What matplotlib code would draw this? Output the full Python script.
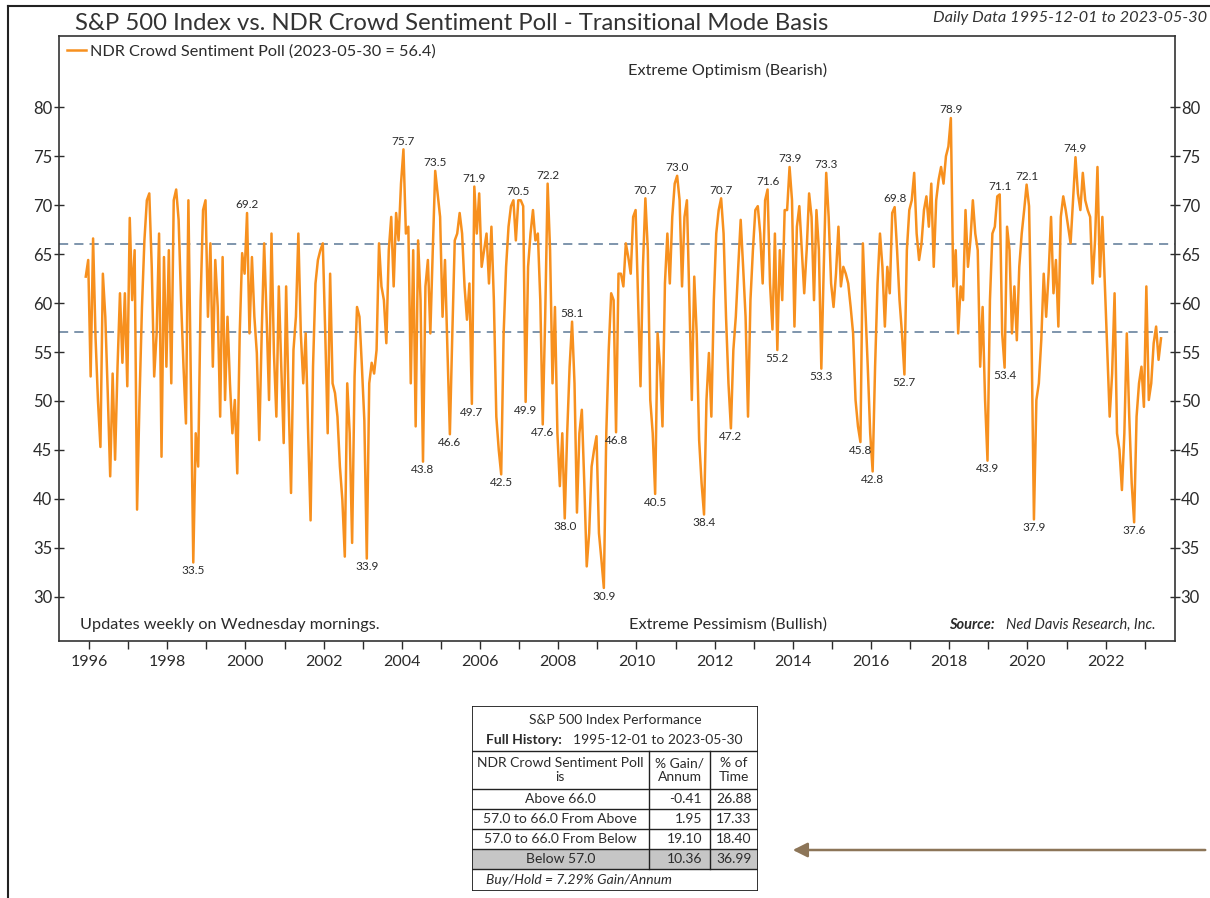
import numpy as np
import matplotlib
matplotlib.use('Agg')
import matplotlib.pyplot as plt
from matplotlib.lines import Line2D
from matplotlib.patches import Rectangle, FancyArrowPatch

plt.rcParams['font.family'] = ['Lato', 'DejaVu Sans']

# ---------------- data ----------------
start_year = 1995.917          # 1995-12-01
step_years = 1 / 16            # sampling step of the values below
sentiment = [
    # 1995 (Dec)
    62.7, 64.4,
    # 1996
    52.5, 66.6, 56.5, 50.0, 45.3, 63.0, 58.6, 50.8, 42.3, 52.8, 44.0, 53.5, 61.0, 53.9, 61.0, 51.5,
    # 1997
    68.7, 60.3, 65.4, 38.9, 50.1, 59.6, 66.4, 70.5, 71.2, 63.7, 52.5, 56.9, 67.1, 44.3, 64.7, 53.5,
    # 1998
    65.4, 51.8, 70.5, 71.6, 68.5, 60.3, 53.5, 47.7, 70.5, 51.8, 33.5, 46.7, 43.3, 60.3, 69.5, 70.5,
    # 1999
    58.6, 66.1, 53.5, 64.4, 59.6, 48.4, 64.7, 50.1, 58.6, 51.8, 46.7, 50.1, 42.6, 56.9, 65.1, 63.0,
    # 2000
    69.2, 56.9, 64.7, 58.6, 54.9, 46.0, 56.9, 66.1, 58.6, 50.1, 67.1, 54.9, 48.4, 61.7, 53.5, 45.7,
    # 2001
    61.7, 50.1, 40.6, 55.2, 58.6, 67.1, 56.9, 51.8, 56.9, 46.7, 37.8, 53.5, 62.0, 64.4, 65.4, 66.1,
    # 2002
    56.9, 46.7, 63.0, 51.8, 50.8, 48.4, 43.3, 39.9, 34.1, 51.8, 46.7, 35.5, 52.5, 59.6, 58.6, 53.5,
    # 2003
    48.0, 33.9, 51.8, 53.9, 52.8, 55.2, 66.1, 61.7, 60.3, 55.9, 65.4, 68.8, 61.7, 69.2, 66.4, 72.2,
    # 2004
    75.7, 67.1, 67.8, 51.8, 65.4, 47.4, 66.4, 60.3, 43.8, 61.7, 64.4, 56.9, 65.4, 73.5, 71.2, 68.8,
    # 2005
    58.6, 64.4, 55.2, 46.6, 56.9, 66.4, 67.1, 69.2, 67.1, 61.7, 58.3, 62.0, 49.7, 71.9, 67.1, 71.2,
    # 2006
    63.7, 65.4, 67.1, 62.0, 67.8, 60.3, 48.4, 45.0, 42.5, 56.9, 63.7, 67.8, 69.9, 70.5, 66.4, 70.5,
    # 2007
    70.5, 69.9, 49.9, 63.7, 67.1, 69.5, 66.4, 67.1, 60.3, 47.6, 58.6, 72.2, 65.4, 51.8, 59.6, 46.7,
    # 2008
    41.3, 46.7, 38.0, 46.7, 53.5, 58.1, 51.8, 38.6, 46.7, 49.1, 41.6, 33.1, 36.5, 43.3, 45.0, 46.4,
    # 2009
    36.5, 33.8, 30.9, 46.7, 55.2, 61.0, 60.3, 46.8, 63.0, 63.0, 61.7, 66.1, 64.7, 63.0, 68.8, 69.5,
    # 2010
    60.3, 51.5, 63.7, 70.7, 65.4, 50.1, 46.7, 40.5, 56.9, 53.5, 47.4, 62.0, 67.1, 62.0, 68.8, 72.2,
    # 2011
    73.0, 70.5, 61.7, 68.8, 70.5, 60.3, 50.1, 62.7, 56.9, 46.0, 41.6, 38.4, 50.1, 54.9, 48.4, 60.3,
    # 2012
    67.1, 69.5, 70.7, 67.1, 58.6, 51.8, 47.2, 55.2, 58.6, 63.7, 68.5, 63.7, 58.6, 48.4, 60.3, 65.4,
    # 2013
    69.5, 69.9, 67.1, 62.0, 70.5, 71.6, 62.0, 57.3, 67.1, 55.2, 65.4, 60.3, 69.5, 69.5, 73.9, 70.5,
    # 2014
    57.6, 67.8, 69.9, 65.4, 61.0, 65.4, 71.2, 68.8, 60.3, 69.5, 65.4, 53.3, 63.7, 73.3, 68.8, 62.0,
    # 2015
    59.6, 63.0, 67.8, 61.7, 63.7, 63.0, 62.0, 59.6, 56.9, 50.1, 47.4, 45.8, 66.1, 59.6, 53.5, 46.7,
    # 2016
    42.8, 53.5, 62.0, 67.1, 63.7, 57.6, 63.7, 61.0, 69.2, 69.8, 65.4, 60.3, 56.9, 52.7, 65.4, 69.5,
    # 2017
    70.5, 73.3, 67.1, 64.4, 66.1, 69.5, 70.9, 67.8, 72.2, 63.7, 70.5, 72.6, 73.9, 72.2, 75.0, 76.0,
    # 2018
    78.9, 61.7, 65.4, 56.9, 61.7, 60.3, 69.5, 63.7, 66.4, 70.5, 67.1, 65.4, 53.5, 59.6, 50.1, 43.9,
    # 2019
    60.3, 67.1, 67.8, 70.9, 71.1, 56.9, 53.4, 67.8, 65.4, 56.9, 61.7, 56.2, 63.7, 67.1, 69.5, 72.1,
    # 2020
    69.9, 56.9, 37.9, 50.1, 51.8, 56.2, 63.0, 58.6, 63.0, 68.8, 61.0, 64.4, 57.6, 68.8, 70.9, 69.5,
    # 2021
    67.8, 66.1, 70.5, 74.9, 71.2, 69.5, 73.3, 70.5, 69.5, 68.8, 62.0, 66.4, 73.9, 62.7, 68.8, 62.0,
    # 2022
    55.2, 48.4, 52.8, 61.0, 46.7, 45.0, 40.9, 46.7, 56.9, 48.4, 41.6, 37.6, 48.4, 51.8, 53.5, 49.4,
    # 2023 (to May 30)
    61.7, 50.1, 51.8, 55.9, 57.6, 54.2, 56.4,
]
dates = start_year + np.arange(len(sentiment)) * step_years

upper_threshold = 66.0
lower_threshold = 57.0

peak_label_dates = [2000.04, 2004.04, 2004.85, 2005.85, 2007.04, 2007.73, 2008.35,
                    2010.23, 2011.04, 2012.17, 2013.35, 2013.92, 2014.85, 2016.60,
                    2018.04, 2019.29, 2019.98, 2021.23]
trough_label_dates = [1998.67, 2003.10, 2004.54, 2005.23, 2005.79, 2006.54, 2007.17,
                      2007.60, 2008.17, 2009.17, 2009.48, 2010.48, 2011.73, 2012.42,
                      2013.60, 2014.73, 2015.73, 2016.04, 2016.85, 2018.98, 2019.42,
                      2020.17, 2022.73]

y_ticks = [30, 35, 40, 45, 50, 55, 60, 65, 70, 75, 80]
x_major_years = list(range(1996, 2023, 2))
x_minor_years = list(range(1997, 2024, 2))

legend_label = 'NDR Crowd Sentiment Poll (2023-05-30 = 56.4)'
title = 'S&P 500 Index vs. NDR Crowd Sentiment Poll - Transitional Mode Basis'
subtitle = 'Daily Data 1995-12-01 to 2023-05-30'

table_title = 'S&P 500 Index Performance'
table_period_label = 'Full History:'
table_period = '1995-12-01 to 2023-05-30'
table_headers = ['NDR Crowd Sentiment Poll\nis', '% Gain/\nAnnum', '% of\nTime']
row_labels = ['Above 66.0', '57.0 to 66.0 From Above', '57.0 to 66.0 From Below', 'Below 57.0']
gain_per_annum = [-0.41, 1.95, 19.10, 10.36]
pct_of_time = [26.88, 17.33, 18.40, 36.99]
buy_hold_gain = 7.29

# ---------------- style ----------------
LINE_COLOR = '#F7901E'
DASH_COLOR = '#5b7896'
TEXT_COLOR = '#2b2b2b'
W, H = 1210, 898


def fx(px):
    return px / W


def fy(py):
    return 1 - py / H


fig = plt.figure(figsize=(W / 100, H / 100), dpi=100)
fig.patch.set_facecolor('white')

ax_l, ax_r, ax_t, ax_b = 58.7, 1174.5, 36, 641
ax = fig.add_axes([fx(ax_l), fy(ax_b), (ax_r - ax_l) / W, (ax_b - ax_t) / H])

ax.plot(dates, sentiment, color=LINE_COLOR, lw=1.8, label=legend_label, zorder=3)
ax.axhline(upper_threshold, color=DASH_COLOR, lw=1.1, ls=(0, (6, 4)), zorder=2)
ax.axhline(lower_threshold, color=DASH_COLOR, lw=1.1, ls=(0, (6, 4)), zorder=2)

ax.set_xlim(1995.225, 2023.762)
ax.set_ylim(25.48, 87.28)

vals = np.asarray(sentiment)
for d in peak_label_dates:
    win = np.where(np.abs(dates - d) < 0.07)[0]
    i = win[np.argmax(vals[win])]
    ax.annotate(f'{vals[i]:.1f}', xy=(dates[i], vals[i]), xytext=(0, 2),
                textcoords='offset points', ha='center', va='bottom',
                fontsize=8.5, color=TEXT_COLOR, zorder=4)
for d in trough_label_dates:
    win = np.where(np.abs(dates - d) < 0.07)[0]
    i = win[np.argmin(vals[win])]
    ax.annotate(f'{vals[i]:.1f}', xy=(dates[i], vals[i]), xytext=(0, -2),
                textcoords='offset points', ha='center', va='top',
                fontsize=8.5, color=TEXT_COLOR, zorder=4)

ax.set_yticks(y_ticks)
ax.set_xticks(x_major_years)
ax.set_xticks(x_minor_years, minor=True)
ax.tick_params(axis='y', which='both', direction='inout', length=7, width=1,
               labelsize=12, left=True, right=True, labelleft=True, labelright=True,
               pad=1, colors=TEXT_COLOR)
ax.tick_params(axis='x', which='both', direction='out', length=6, width=1,
               labelsize=11.5, pad=4, colors=TEXT_COLOR)
for s in ax.spines.values():
    s.set_linewidth(1.2)
    s.set_color('#333333')

leg = ax.legend(loc='upper left', bbox_to_anchor=(0.0, 1.0), frameon=False,
                fontsize=11.7, handlelength=1.2, handletextpad=0.25,
                borderaxespad=0.2, borderpad=0.3)
for t in leg.get_texts():
    t.set_color(TEXT_COLOR)

ax.text(0.5996, 0.9436, 'Extreme Optimism (Bearish)', transform=ax.transAxes,
        ha='center', va='center', fontsize=11.7, color=TEXT_COLOR)
ax.text(0.5996, 0.0265, 'Extreme Pessimism (Bullish)', transform=ax.transAxes,
        ha='center', va='center', fontsize=11.7, color=TEXT_COLOR)
ax.text(0.019, 0.0265, 'Updates weekly on Wednesday mornings.', transform=ax.transAxes,
        ha='left', va='center', fontsize=11.7, color=TEXT_COLOR)
src = ax.text(0.983, 0.0265, 'Ned Davis Research, Inc.', transform=ax.transAxes,
              ha='right', va='center', fontsize=10.5, style='italic', color=TEXT_COLOR)
ax.annotate('Source:', xy=(0, 0.5), xycoords=src, xytext=(-8, 0),
            textcoords='offset points', ha='right', va='center', fontsize=10.5,
            style='italic', fontweight='bold', color=TEXT_COLOR)

# title and header
fig.text(fx(75), fy(30), title, ha='left', va='baseline', fontsize=17.2, color='#333333')
fig.text(fx(1207), fy(22), subtitle, ha='right', va='baseline', fontsize=11.8,
         style='italic', color='#333333')

# outer frame
fig.add_artist(Line2D([fx(8), fx(8)], [fy(6), 0], color='#222222', lw=1.5))
fig.add_artist(Line2D([fx(8), 1], [fy(6), fy(6)], color='#222222', lw=1.5))

# arrow
fig.add_artist(FancyArrowPatch(
    (fx(1208), fy(850)), (fx(790), fy(850)), transform=fig.transFigure,
    arrowstyle='-|>', mutation_scale=22, color='#8c7558', lw=1.8))

# ---------------- table ----------------
tl, tr, tt, tb = 471.7, 758.0, 706.0, 890.7
tw, th = tr - tl, tb - tt
tax = fig.add_axes([fx(tl), fy(tb), tw / W, th / H])
tax.set_xlim(0, tw)
tax.set_ylim(th, 0)
tax.axis('off')

col1, col2 = 177.3, 238.3
y_title_end = 44.7
y_header_end = 83.0
row_h = 20.0
rows_y = [y_header_end + k * row_h for k in range(len(row_labels) + 1)]
y_rows_end = rows_y[-1]

tax.add_patch(Rectangle((0, rows_y[3]), tw, row_h, facecolor='#c6c6c6', edgecolor='none'))
tax.add_patch(Rectangle((0, 0), tw, th, facecolor='none', edgecolor='#222222', lw=1.3))
lc = dict(color='#222222', lw=1.0)
tax.plot([0, tw], [y_title_end, y_title_end], **lc)
for yy in rows_y:
    tax.plot([0, tw], [yy, yy], **lc)
tax.plot([col1, col1], [y_title_end, y_rows_end], **lc)
tax.plot([col2, col2], [y_title_end, y_rows_end], **lc)

fs = 10
tax.text(tw / 2, 14.5, table_title, ha='center', va='center', fontsize=fs, color=TEXT_COLOR)
tax.text(14, 33.5, table_period_label, ha='left', va='center', fontsize=fs,
         fontweight='bold', color=TEXT_COLOR)
tax.text(101, 33.5, table_period, ha='left', va='center', fontsize=fs, color=TEXT_COLOR)

hy = (y_title_end + y_header_end) / 2
tax.text(col1 / 2, hy, table_headers[0], ha='center', va='center', fontsize=fs,
         color=TEXT_COLOR, linespacing=1.15)
tax.text((col1 + col2) / 2, hy, table_headers[1], ha='center', va='center', fontsize=fs,
         color=TEXT_COLOR, linespacing=1.15)
tax.text((col2 + tw) / 2, hy, table_headers[2], ha='center', va='center', fontsize=fs,
         color=TEXT_COLOR, linespacing=1.15)

for k, lab in enumerate(row_labels):
    cy = rows_y[k] + row_h / 2
    tax.text(col1 / 2, cy, lab, ha='center', va='center', fontsize=fs, color=TEXT_COLOR)
    tax.text(col2 - 8, cy, f'{gain_per_annum[k]:.2f}', ha='right', va='center',
             fontsize=fs, color=TEXT_COLOR)
    tax.text((col2 + tw) / 2, cy, f'{pct_of_time[k]:.2f}', ha='center', va='center',
             fontsize=fs, color=TEXT_COLOR)

tax.text(14, (y_rows_end + th) / 2, f'Buy/Hold = {buy_hold_gain:.2f}% Gain/Annum',
         ha='left', va='center', fontsize=fs, style='italic', color=TEXT_COLOR)

fig.savefig('out.png', dpi=100)
